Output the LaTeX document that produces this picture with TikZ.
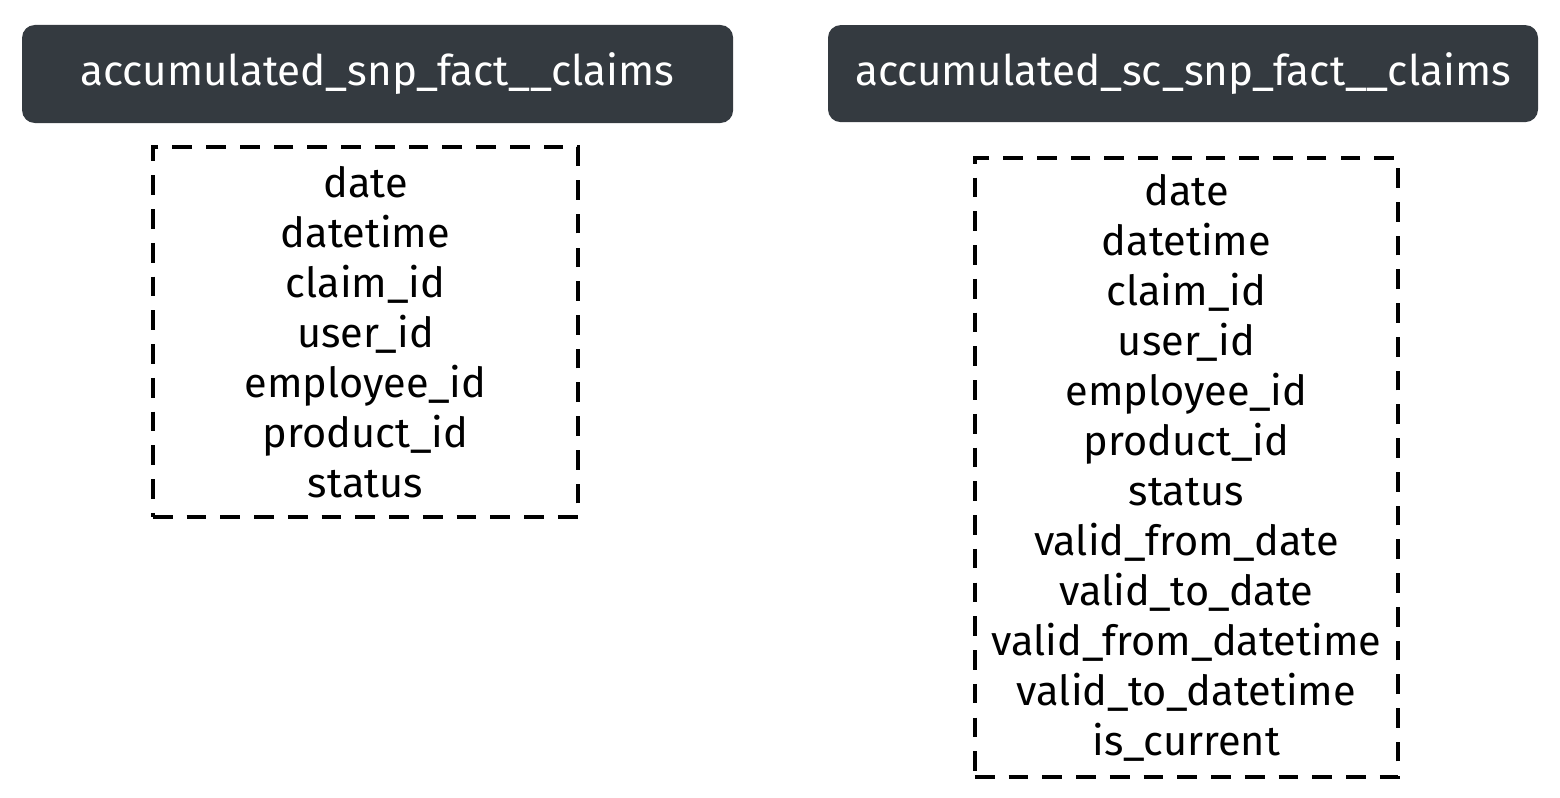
\documentclass[tikz,border=0pt]{standalone}
\usepackage{fontspec}
\setmainfont{Fira Sans}
\usepackage{tikz}
\usetikzlibrary{positioning}
\definecolor{colorhead}{RGB}{52, 58, 64}
\tikzstyle{table}=[rectangle, rounded corners=9pt, fill=colorhead, text=white, inner sep=0pt, font=\fontsize{30}{36}\selectfont]
\tikzstyle{columns}=[rectangle, draw=black, dash pattern=on 14pt off 10pt, line width=2.6pt, inner sep=0pt, align=center, font=\fontsize{29.5}{35.57}\selectfont]

\begin{document}
\begin{tikzpicture}
	
	\useasboundingbox (0, 0) rectangle (39, -19.95);
	
	\node[table, minimum width=17.775cm, minimum height=2.45cm] at (9.44, -1.85) (t1) {accumulated\_snp\_fact\_\_claims};
	
	\node[table, minimum width=17.75cm, minimum height=2.425cm] at (29.575, -1.84) (t2) {accumulated\_sc\_snp\_fact\_\_claims};
	
	\node[columns, minimum width=10.625cm, minimum height=9.25cm] at (9.1375, -8.3) (c1) {date\\ datetime\\ claim\_id\\ user\_id\\ employee\_id\\ product\_id\\ status};
	
	\node[columns, minimum width=10.575cm, minimum height=15.475cm] at (29.66, -11.69) (c2) {date\\ datetime\\ claim\_id\\ user\_id\\ employee\_id\\ product\_id\\ status\\ valid\_from\_date\\ valid\_to\_date\\ valid\_from\_datetime\\ valid\_to\_datetime\\ is\_current};
	
\end{tikzpicture}
\end{document}
